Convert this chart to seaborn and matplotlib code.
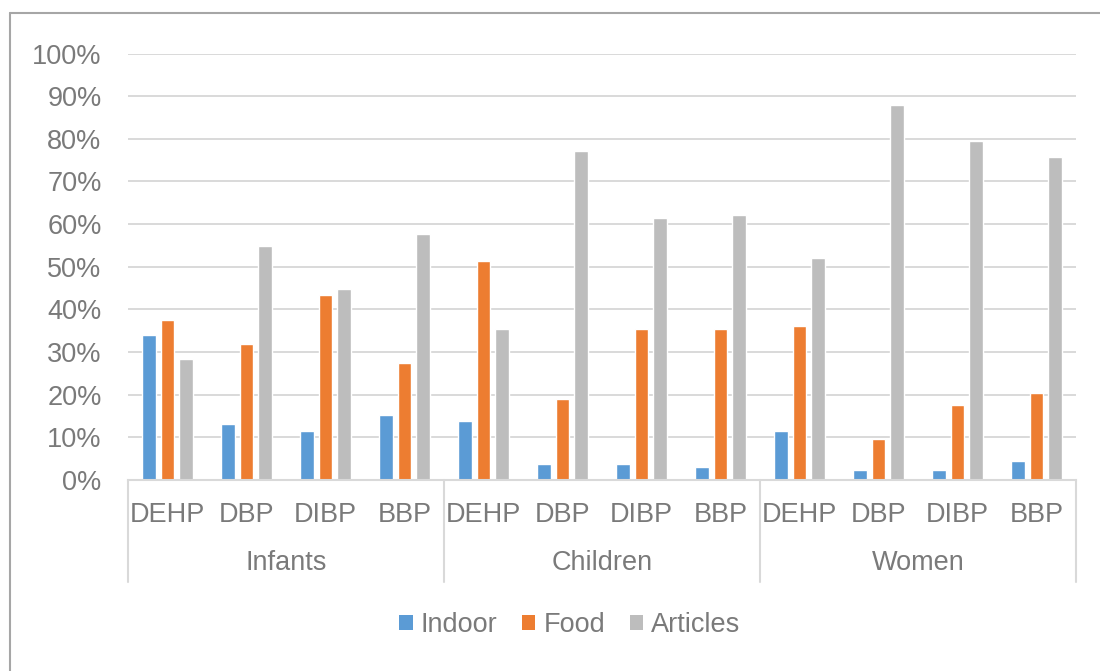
import matplotlib
matplotlib.use("Agg")
import matplotlib.pyplot as plt
from matplotlib.lines import Line2D
from matplotlib.patches import Patch
from matplotlib.ticker import PercentFormatter
import pandas as pd
import seaborn as sns

# Share of phthalate exposure by source (fraction of total)
groups = ["Infants", "Children", "Women"]
compounds = ["DEHP", "DBP", "DIBP", "BBP"]
sources = ["Indoor", "Food", "Articles"]

indoor = [0.340, 0.131, 0.116, 0.152,
          0.138, 0.037, 0.037, 0.030,
          0.116, 0.023, 0.023, 0.045]
food = [0.376, 0.318, 0.434, 0.275,
        0.513, 0.189, 0.354, 0.354,
        0.362, 0.095, 0.175, 0.203]
articles = [0.283, 0.549, 0.448, 0.577,
            0.354, 0.772, 0.614, 0.621,
            0.520, 0.880, 0.794, 0.757]

colors = ["#5B9BD5", "#ED7D31", "#BDBDBD"]
text_color = "#7A7A7A"
grid_color = "#D9D9D9"

# Long-form table: one row per bar
slots = [f"{g}|{c}" for g in groups for c in compounds]
rows = []
for src, vals in zip(sources, [indoor, food, articles]):
    for slot, v in zip(slots, vals):
        rows.append({"slot": slot, "source": src, "share": v})
df = pd.DataFrame(rows)

sns.set_theme(style="white")
plt.rcParams["font.family"] = ["Liberation Sans", "DejaVu Sans"]

fig = plt.figure(figsize=(11, 6.71), dpi=100)
ax = fig.add_axes([128 / 1100, 1 - 480 / 671, (1076 - 128) / 1100, (480 - 53.5) / 671])

sns.barplot(data=df, x="slot", y="share", hue="source", order=slots,
            hue_order=sources, palette=colors, width=0.7, gap=0.27,
            saturation=1, ax=ax, legend=False)

ax.set_ylim(0, 1.0)
ax.set_xlim(-0.5, len(slots) - 0.5)
ax.set_yticks([i / 10 for i in range(11)])
ax.yaxis.set_major_formatter(PercentFormatter(1.0, decimals=0))
ax.set_xlabel("")
ax.set_ylabel("")

ax.yaxis.grid(True, color=grid_color, linewidth=1.4)
ax.set_axisbelow(True)
for side in ["top", "right", "left"]:
    ax.spines[side].set_visible(False)
ax.spines["bottom"].set_color(grid_color)
ax.spines["bottom"].set_linewidth(1.5)

ax.set_xticks(range(len(slots)))
ax.set_xticklabels([s.split("|")[1] for s in slots])
ax.tick_params(axis="x", length=0, pad=16, labelsize=19.5, labelcolor=text_color)
ax.tick_params(axis="y", length=0, pad=19, labelsize=19.5, labelcolor=text_color)

# Group labels and separators beneath the compound labels
axis_h_px = 480 - 53.5
trans = ax.get_xaxis_transform()
n = len(compounds)
for i, g in enumerate(groups):
    center = i * n + (n - 1) / 2
    ax.text(center, -83 / axis_h_px, g, transform=trans, ha="center",
            va="center", fontsize=19.5, color=text_color)
for k in range(len(groups) + 1):
    xpos = k * n - 0.5
    ax.add_line(Line2D([xpos, xpos], [0, -102 / axis_h_px], transform=trans,
                       color=grid_color, linewidth=1.5, clip_on=False))

handles = [Patch(facecolor=c, edgecolor="none", label=s)
           for c, s in zip(colors, sources)]
fig.legend(handles=handles, loc="center", bbox_to_anchor=(0.518, 1 - 625 / 671),
           ncol=3, frameon=False, fontsize=19.5, labelcolor=text_color,
           handlelength=0.5, handleheight=0.5, handletextpad=0.3,
           columnspacing=0.9)

# Outer chart frame
fig.add_artist(Line2D([9.5 / 1100, 1.0], [1 - 12.5 / 671, 1 - 12.5 / 671],
                      transform=fig.transFigure, color="#A6A6A6", linewidth=1.5))
fig.add_artist(Line2D([9.5 / 1100, 9.5 / 1100], [0, 1 - 12.5 / 671],
                      transform=fig.transFigure, color="#A6A6A6", linewidth=1.5))

fig.savefig("out.png", dpi=100)
